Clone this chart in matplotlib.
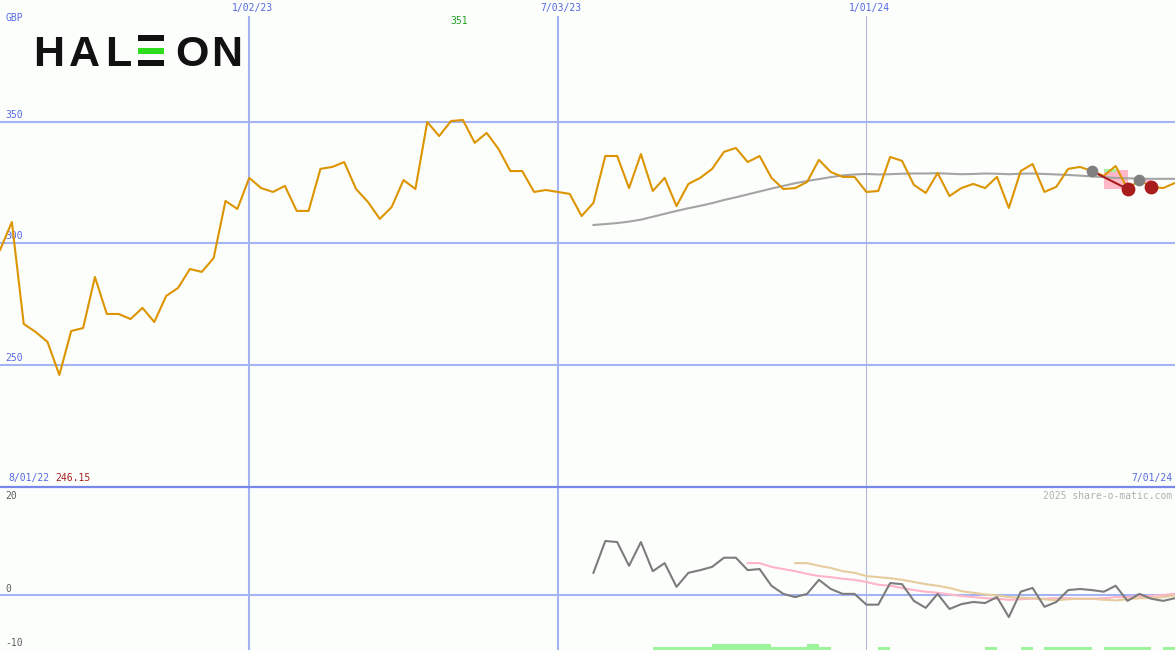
import pandas as pd
import matplotlib.pyplot as plt
from matplotlib.patches import Rectangle

# weekly closes (GBP pence), Aug 2022 - Jul 2024
weeks = pd.date_range('2022-08-08', periods=100, freq='7D')
price = [297.3, 308.8, 266.9, 263.6, 259.5, 245.9, 264.0, 265.2, 286.2, 271.0,
         271.0, 268.9, 273.5, 267.7, 278.4, 281.7, 289.5, 288.3, 294.0, 317.5,
         314.2, 327.0, 322.8, 321.2, 323.7, 313.4, 313.4, 330.7, 331.5, 333.5,
         322.4, 317.1, 310.1, 315.0, 326.1, 322.4, 350.0, 344.2, 350.4, 350.8,
         341.4, 345.5, 338.9, 329.8, 329.8, 321.2, 322.0, 321.2, 320.4, 311.3,
         316.7, 336.0, 336.0, 322.8, 336.8, 321.6, 327.0, 315.4, 324.5, 327.0,
         330.7, 337.7, 339.3, 333.5, 336.0, 327.0, 322.4, 322.8, 325.3, 334.4,
         329.4, 327.4, 327.4, 321.2, 321.6, 335.6, 334.0, 324.1, 320.8, 329.0,
         319.5, 322.8, 324.5, 322.8, 327.4, 314.6, 329.8, 332.7, 321.2, 323.3,
         330.7, 331.5, 329.8, 327.8, 331.9, 322.4, 326.1, 323.3, 322.8, 324.9]

# moving average, starts at week 50
ma_start = 50
ma = [307.6, 308.0, 308.4, 309.0, 309.8, 311.0, 312.2, 313.4, 314.5, 315.5,
      316.6, 317.9, 319.0, 320.2, 321.4, 322.6, 323.7, 324.8, 325.7, 326.5,
      327.3, 328.0, 328.4, 328.6, 328.4, 328.5, 328.7, 328.8, 328.8, 328.9,
      328.7, 328.5, 328.6, 328.8, 328.7, 328.5, 328.7, 328.8, 328.6, 328.4,
      328.2, 327.9, 327.6, 327.3, 327.0, 326.8, 326.7, 326.6, 326.6, 326.6]

# lower panel: momentum and its two averages
mom = [4.1, 10.0, 9.8, 5.4, 9.8, 4.4, 5.9, 1.5, 4.1, 4.6,
       5.2, 6.9, 6.9, 4.6, 4.8, 1.7, 0.2, -0.4, 0.2, 2.8,
       1.1, 0.2, 0.2, -1.8, -1.8, 2.2, 2.0, -1.1, -2.4, 0.2,
       -2.6, -1.7, -1.3, -1.5, -0.4, -4.1, 0.6, 1.3, -2.2, -1.3,
       0.9, 1.1, 0.9, 0.6, 1.7, -1.1, 0.2, -0.7, -1.1, -0.6]
pink_start = 63
pink_avg = [5.9, 5.9, 5.2, 4.8, 4.4, 3.9, 3.5, 3.3, 3.0, 2.8,
            2.4, 1.9, 1.7, 1.3, 0.9, 0.6, 0.4, 0.1, -0.2, -0.4,
            -0.6, -0.7, -0.9, -0.8, -0.7, -0.7, -0.6, -0.6, -0.7, -0.7,
            -0.6, -0.4, -0.4, -0.2, -0.2, 0.0, 0.2]
tan_start = 67
tan_avg = [5.9, 5.9, 5.4, 5.0, 4.4, 4.1, 3.5, 3.3, 3.1, 2.8,
           2.4, 2.0, 1.7, 1.3, 0.7, 0.4, 0.1, -0.1, -0.4, -0.5,
           -0.6, -0.8, -1.0, -0.8, -0.7, -0.7, -0.9, -1.0, -0.8, -0.6,
           -0.6, -0.4, -0.1]

# green activity bars at the bottom (week index, height)
bar_weeks = [55, 56, 57, 58, 59, 60, 61, 62, 63, 64, 65, 66, 67, 68, 69,
             74, 83, 86, 88, 89, 90, 91, 93, 94, 95, 96, 98]
bar_heights = [0.55, 0.55, 0.55, 0.55, 0.55, 1.1, 1.1, 1.1, 1.1, 1.1, 0.55, 0.55, 0.55, 1.1, 0.55,
               0.55, 0.55, 0.55, 0.55, 0.55, 0.55, 0.55, 0.55, 0.55, 0.55, 0.55, 0.55]

# signals near the end
grey_sig_weeks = [92, 96]
red_sig_weeks = [95, 97]
pink_boxes = [(93, 95, 322.5, 330.2), (96, 97, 325.4, 327.0)]
green_boxes = [(93, 94, 329.4, 330.6)]

hi_week, hi_label = 39, '351'
lo_label = '246.15'

bg = '#fcfefc'
grid_c = '#a4b4f2'
blue_txt = '#5468e4'
mono = 'DejaVu Sans Mono'

W, H = 1175, 650
fig = plt.figure(figsize=(W / 100, H / 100), dpi=100, facecolor=bg)
ax1 = fig.add_axes([0, (H - 487) / H, 1, (487 - 16) / H])
ax2 = fig.add_axes([0, 0, 1, 163 / H])

for ax in (ax1, ax2):
    ax.set_facecolor(bg)
    ax.set_xlim(weeks[0], weeks[-1])
    ax.set_xticks([])
    ax.set_yticks([])
    for s in ax.spines.values():
        s.set_visible(False)
    for d in ['2023-01-02', '2023-07-03']:
        ax.axvline(pd.Timestamp(d), color=grid_c, lw=1.5, zorder=1)
    ax.axvline(pd.Timestamp('2024-01-01'), color='#b4b8d8', lw=0.8, zorder=1)

ax1.set_ylim(199.8, 393.6)
ax2.set_ylim(-10.2, 20)
ax2.spines['top'].set_visible(True)
ax2.spines['top'].set_color('#7888ea')
ax2.spines['top'].set_linewidth(1.6)

# top panel
for v in [350, 300, 250]:
    ax1.axhline(v, color=grid_c, lw=1.5, zorder=1)
    ax1.annotate(str(v), (0, v), xycoords=('axes fraction', 'data'), xytext=(4, 1.5),
                 textcoords='offset points', color=blue_txt, fontsize=7, family=mono, va='bottom')

for a, b, lo, hi in pink_boxes:
    ax1.fill_between([weeks[a], weeks[b]], lo, hi, color='#ffb8c8', lw=0, zorder=2)
for a, b, lo, hi in green_boxes:
    ax1.fill_between([weeks[a], weeks[b]], lo, hi, color='#a8f0a0', lw=0, zorder=2)

ax1.plot(weeks[ma_start:], ma, color='#a4a4a4', lw=1.5, zorder=3)
ax1.plot(weeks, price, color='#dc9400', lw=1.5, zorder=4)
ax1.plot([weeks[grey_sig_weeks[0]], weeks[red_sig_weeks[0]]],
         [price[grey_sig_weeks[0]], price[red_sig_weeks[0]]], color='#a81c1c', lw=1.5, zorder=5)
ax1.scatter(weeks[grey_sig_weeks], [price[i] for i in grey_sig_weeks], s=55, color='#808080', zorder=6)
ax1.scatter(weeks[red_sig_weeks], [price[i] for i in red_sig_weeks], s=80, color='#a81c1c', zorder=6)

# high label sits just under the top edge, date labels just above it
ax1.annotate(hi_label, (weeks[hi_week], 1), xycoords=('data', 'axes fraction'), xytext=(-3, -3.6),
             textcoords='offset points', color='#20a020', fontsize=7, family=mono, ha='center', va='center')
for d, lab in [('2023-01-02', '1/02/23'), ('2023-07-03', '7/03/23'), ('2024-01-01', '1/01/24')]:
    ax1.annotate(lab, (pd.Timestamp(d), 1), xycoords=('data', 'axes fraction'), xytext=(2, 5.6),
                 textcoords='offset points', color=blue_txt, fontsize=7, family=mono, ha='center', va='center')
fig.text(5 / W, 1 - 18 / H, 'GBP', color=blue_txt, fontsize=7, family=mono, va='center')

# bottom labels of the top panel
fig.text(8 / W, 1 - 478 / H, '8/01/22', color=blue_txt, fontsize=7, family=mono, va='center')
fig.text(55 / W, 1 - 478 / H, lo_label, color='#a82020', fontsize=7, family=mono, va='center')
fig.text(1172 / W, 1 - 478 / H, '7/01/24', color=blue_txt, fontsize=7, family=mono, va='center', ha='right')

# lower panel
ax2.axhline(0, color=grid_c, lw=1.5, zorder=1)
ax2.bar(weeks[bar_weeks], bar_heights, bottom=-10.2, width=7, align='edge', color='#9cf49c', lw=0, zorder=2)
ax2.plot(weeks[pink_start:], pink_avg, color='#ffb4c8', lw=1.5, zorder=3)
ax2.plot(weeks[tan_start:], tan_avg, color='#e6cc9c', lw=1.5, zorder=3)
ax2.plot(weeks[ma_start:], mom, color='#7c7c7c', lw=1.5, zorder=4)

for lab, yp in [('20', 496), ('0', 589), ('-10', 643)]:
    fig.text(5 / W, 1 - yp / H, lab, color='#606060', fontsize=7, family=mono, va='center')
fig.text(1172 / W, 1 - 496 / H, '2025 share-o-matic.com', color='#b0b0b0', fontsize=7,
         family=mono, va='center', ha='right')

# logo
logo_font = dict(fontsize=31, family='Liberation Sans', weight='bold', color='#111111', va='baseline', ha='center')
for ch, xc in [('H', 49), ('A', 84.5), ('L', 118), ('O', 191.5), ('N', 226.5)]:
    fig.text(xc / W, 1 - 66 / H, ch, **logo_font)
for y0, c in [(35, '#111111'), (48, '#30dc1e'), (60, '#111111')]:
    fig.patches.append(Rectangle((138 / W, 1 - (y0 + 6) / H), 26 / W, 6 / H,
                                 transform=fig.transFigure, color=c, lw=0))

fig.savefig('out.png', dpi=100, facecolor=bg)
